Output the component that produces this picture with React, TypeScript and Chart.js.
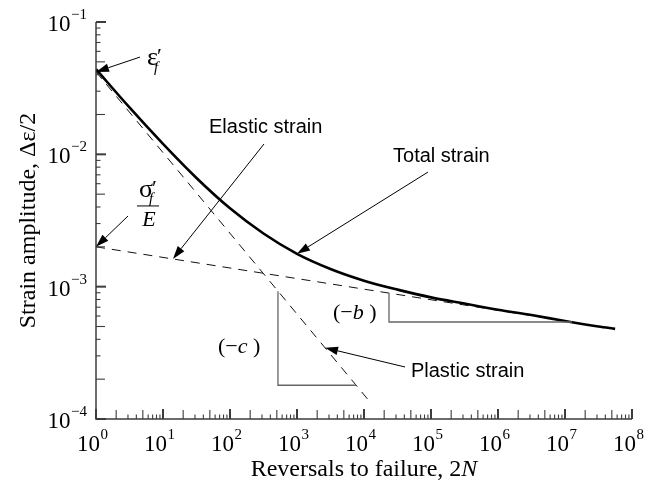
import React, { useEffect, useRef } from "react";
import { Chart, registerables } from "chart.js";

Chart.register(...registerables);

// ---- data ----
const TOTAL_X = [1, 3.16, 10, 31.6, 100, 316, 1000, 3160, 1e4, 3.16e4, 1e5, 3.16e5, 1e6, 3.16e6, 1e7, 3.16e7, 5.6e7];
const TOTAL_Y = [0.044, 0.0226, 0.012, 0.00663, 0.00391, 0.00252, 0.00177, 0.00136, 0.00111, 0.00095, 0.00083, 0.000745, 0.00067, 0.00061, 0.00055, 0.0005, 0.00048];
const ELASTIC_X = [1, 1.26e7];
const ELASTIC_Y = [0.002, 0.000541];
const PLASTIC_X = [1, 1.15e4];
const PLASTIC_Y = [0.042, 0.00014];

const X_EXPONENTS = [0, 1, 2, 3, 4, 5, 6, 7, 8];
const Y_EXPONENTS = [-4, -3, -2, -1];
const MINOR_MULTS = [2, 3, 4, 5, 6, 7, 8, 9];

const X_TITLE = "Reversals to failure, 2";
const X_TITLE_ITALIC = "N";
const Y_TITLE = "Strain amplitude, Δε/2";

// annotation anchors in log10 data units [log x, log y]
const ARROWS: [number, number, number, number][] = [
  [0.657, -1.265, 0, -1.377], // eps_f'
  [0.478, -2.466, 0, -2.699], // sigma_f'/E
  [2.507, -1.922, 1.149, -2.79], // elastic
  [4.955, -2.134, 3.0, -2.752], // total
  [4.612, -3.607, 3.418, -3.462], // plastic
];
const LABELS: { text: string; lx: number; ly: number }[] = [
  { text: "Elastic strain", lx: 1.687, ly: -1.839 },
  { text: "Total strain", lx: 4.433, ly: -2.058 },
  { text: "Plastic strain", lx: 4.701, ly: -3.683 },
];
const SLOPE_B: [number, number][] = [[4.373, -3.049], [4.373, -3.267], [7.104, -3.267]];
const SLOPE_C: [number, number][] = [[2.716, -3.034], [2.716, -3.745], [3.881, -3.745]];
const B_LABEL = { lx: 3.537, ly: -3.244 };
const C_LABEL = { lx: 1.821, ly: -3.501 };
const EPS_LABEL = { lx: 0.761, ly: -1.325 };
const SIG_LABEL = { lx: 0.642, ly: -2.322 };

const SERIF = '"Liberation Serif", "Times New Roman", serif';
const SANS = '"Liberation Sans", Arial, sans-serif';
const AXIS_COLOR = "#3c3c3c";

function pts(xs: number[], ys: number[]) {
  return xs.map((x, i) => ({ x, y: ys[i] }));
}

const decor = {
  id: "decor",
  afterDatasetsDraw(chart: any) {
    const ctx: CanvasRenderingContext2D = chart.ctx;
    const xs = chart.scales.x;
    const ys = chart.scales.y;
    const ca = chart.chartArea;
    const px = (lx: number) => xs.getPixelForValue(Math.pow(10, lx));
    const py = (ly: number) => ys.getPixelForValue(Math.pow(10, ly));
    ctx.save();

    // axes lines
    ctx.strokeStyle = AXIS_COLOR;
    ctx.lineWidth = 1.5;
    ctx.beginPath();
    ctx.moveTo(ca.left, ca.top);
    ctx.lineTo(ca.left, ca.bottom);
    ctx.lineTo(ca.right, ca.bottom);
    ctx.stroke();

    const tickLen = (m: number) => (m === 2 || m === 5 ? 9 : 4.5);

    // x ticks
    X_EXPONENTS.forEach((e, i) => {
      const x = xs.getPixelForValue(Math.pow(10, e));
      ctx.lineWidth = 2;
      ctx.beginPath();
      ctx.moveTo(x, ca.bottom);
      ctx.lineTo(x, ca.bottom - 10);
      ctx.stroke();
      if (i < X_EXPONENTS.length - 1) {
        MINOR_MULTS.forEach((m) => {
          const xm = xs.getPixelForValue(m * Math.pow(10, e));
          ctx.lineWidth = 1.1;
          ctx.beginPath();
          ctx.moveTo(xm, ca.bottom);
          ctx.lineTo(xm, ca.bottom - tickLen(m));
          ctx.stroke();
        });
      }
    });
    // y ticks
    Y_EXPONENTS.forEach((e, i) => {
      const y = ys.getPixelForValue(Math.pow(10, e));
      ctx.lineWidth = 2;
      ctx.beginPath();
      ctx.moveTo(ca.left, y);
      ctx.lineTo(ca.left + 10, y);
      ctx.stroke();
      if (i < Y_EXPONENTS.length - 1) {
        MINOR_MULTS.forEach((m) => {
          const ym = ys.getPixelForValue(m * Math.pow(10, e));
          ctx.lineWidth = 1.1;
          ctx.beginPath();
          ctx.moveTo(ca.left, ym);
          ctx.lineTo(ca.left + tickLen(m), ym);
          ctx.stroke();
        });
      }
    });

    // tick labels
    ctx.fillStyle = "#000";
    ctx.textBaseline = "alphabetic";
    const bigF = `23px ${SERIF}`;
    const supF = `15px ${SERIF}`;
    X_EXPONENTS.forEach((e) => {
      const x = xs.getPixelForValue(Math.pow(10, e));
      ctx.font = bigF;
      ctx.textAlign = "left";
      const w = ctx.measureText("10").width;
      const left = x - 7.5 - w / 2;
      ctx.fillText("10", left, ca.bottom + 32);
      ctx.font = supF;
      ctx.fillText(String(e), left + w + 0.5, ca.bottom + 20);
    });
    Y_EXPONENTS.forEach((e) => {
      const y = ys.getPixelForValue(Math.pow(10, e));
      const expStr = "\u2212" + String(Math.abs(e));
      ctx.font = supF;
      const ew = ctx.measureText(expStr).width;
      ctx.font = bigF;
      const w = ctx.measureText("10").width;
      const right = ca.left - 9;
      ctx.textAlign = "left";
      ctx.fillText("10", right - ew - w - 0.5, y + 9);
      ctx.font = supF;
      ctx.fillText(expStr, right - ew, y - 3);
    });

    // axis titles
    ctx.font = `24px ${SERIF}`;
    const t1w = ctx.measureText(X_TITLE).width;
    ctx.font = `italic 24px ${SERIF}`;
    const t2w = ctx.measureText(X_TITLE_ITALIC).width;
    const cx = (ca.left + ca.right) / 2;
    const xl = cx - (t1w + t2w) / 2;
    ctx.textAlign = "left";
    ctx.font = `24px ${SERIF}`;
    ctx.fillText(X_TITLE, xl, ca.bottom + 57);
    ctx.font = `italic 24px ${SERIF}`;
    ctx.fillText(X_TITLE_ITALIC, xl + t1w, ca.bottom + 57);

    ctx.save();
    ctx.translate(35, (ca.top + ca.bottom) / 2);
    ctx.rotate(-Math.PI / 2);
    ctx.font = `24px ${SERIF}`;
    ctx.textAlign = "center";
    ctx.fillText(Y_TITLE, 0, 0);
    ctx.restore();

    // slope triangles
    ctx.strokeStyle = "#666";
    ctx.lineWidth = 1.3;
    [SLOPE_B, SLOPE_C].forEach((tri) => {
      ctx.beginPath();
      tri.forEach(([lx, ly], k) => {
        if (k === 0) ctx.moveTo(px(lx), py(ly));
        else ctx.lineTo(px(lx), py(ly));
      });
      ctx.stroke();
    });

    // arrows
    ctx.strokeStyle = "#000";
    ctx.fillStyle = "#000";
    ARROWS.forEach(([tx, ty, hx, hy]) => {
      const x1 = px(tx), y1 = py(ty), x2 = px(hx), y2 = py(hy);
      const ang = Math.atan2(y2 - y1, x2 - x1);
      const L = 13, W = 4.2;
      const bx = x2 - L * Math.cos(ang), by = y2 - L * Math.sin(ang);
      ctx.lineWidth = 1;
      ctx.beginPath();
      ctx.moveTo(x1, y1);
      ctx.lineTo(bx, by);
      ctx.stroke();
      ctx.beginPath();
      ctx.moveTo(x2, y2);
      ctx.lineTo(bx + W * Math.sin(ang), by - W * Math.cos(ang));
      ctx.lineTo(bx - W * Math.sin(ang), by + W * Math.cos(ang));
      ctx.closePath();
      ctx.fill();
    });

    // sans labels
    ctx.font = `20px ${SANS}`;
    ctx.textAlign = "left";
    LABELS.forEach((l) => ctx.fillText(l.text, px(l.lx), py(l.ly)));

    // slope labels
    const drawSlope = (lx: number, ly: number, letter: string) => {
      let x = px(lx);
      const y = py(ly);
      ctx.font = `22px ${SERIF}`;
      ctx.fillText("(\u2212", x, y);
      x += ctx.measureText("(\u2212").width;
      ctx.font = `italic 22px ${SERIF}`;
      ctx.fillText(letter, x, y);
      x += ctx.measureText(letter + " ").width;
      ctx.font = `22px ${SERIF}`;
      ctx.fillText(")", x, y);
    };
    drawSlope(B_LABEL.lx, B_LABEL.ly, "b");
    drawSlope(C_LABEL.lx, C_LABEL.ly, "c");

    // epsilon_f'
    {
      const x = px(EPS_LABEL.lx), y = py(EPS_LABEL.ly);
      ctx.font = `26px ${SERIF}`;
      ctx.fillText("ε", x, y);
      ctx.font = `22px ${SERIF}`;
      ctx.fillText("\u2032", x + 10, y - 2);
      ctx.font = `italic 15px ${SERIF}`;
      ctx.fillText("f", x + 7, y + 7);
    }
    // sigma_f' / E
    {
      const x = px(SIG_LABEL.lx), y = py(SIG_LABEL.ly);
      ctx.font = `26px ${SERIF}`;
      ctx.fillText("σ", x, y);
      ctx.font = `22px ${SERIF}`;
      ctx.fillText("\u2032", x + 13, y - 2);
      ctx.font = `italic 15px ${SERIF}`;
      ctx.fillText("f", x + 10, y + 6);
      ctx.lineWidth = 1;
      ctx.beginPath();
      ctx.moveTo(x - 2, y + 9);
      ctx.lineTo(x + 20, y + 9);
      ctx.stroke();
      ctx.font = `italic 22px ${SERIF}`;
      ctx.textAlign = "center";
      ctx.fillText("E", x + 10, y + 29);
      ctx.textAlign = "left";
    }

    ctx.restore();
  },
};

export default function App() {
  const ref = useRef<HTMLCanvasElement | null>(null);
  useEffect(() => {
    if (!ref.current) return;
    const chart = new Chart(ref.current, {
      type: "line",
      data: {
        datasets: [
          {
            label: "Total strain",
            data: pts(TOTAL_X, TOTAL_Y),
            borderColor: "#000",
            borderWidth: 2.6,
            pointRadius: 0,
            cubicInterpolationMode: "monotone",
            fill: false,
          },
          {
            label: "Elastic strain",
            data: pts(ELASTIC_X, ELASTIC_Y),
            borderColor: "#111",
            borderWidth: 1,
            borderDash: [9, 7],
            pointRadius: 0,
            fill: false,
          },
          {
            label: "Plastic strain",
            data: pts(PLASTIC_X, PLASTIC_Y),
            borderColor: "#111",
            borderWidth: 1,
            borderDash: [9, 7],
            pointRadius: 0,
            fill: false,
          },
        ],
      },
      options: {
        responsive: false,
        animation: false,
        parsing: false as any,
        layout: { padding: { left: 96, right: 25, top: 22, bottom: 67 } },
        plugins: { legend: { display: false }, tooltip: { enabled: false } },
        scales: {
          x: { type: "logarithmic", min: 1, max: 1e8, display: false },
          y: { type: "logarithmic", min: 1e-4, max: 1e-1, display: false },
        },
      },
      plugins: [decor],
    });
    return () => chart.destroy();
  }, []);
  return (
    <div style={{ position: "fixed", left: 0, top: 0, width: 657, height: 486, background: "#fff" }}>
      <canvas ref={ref} width={657} height={486} />
    </div>
  );
}
